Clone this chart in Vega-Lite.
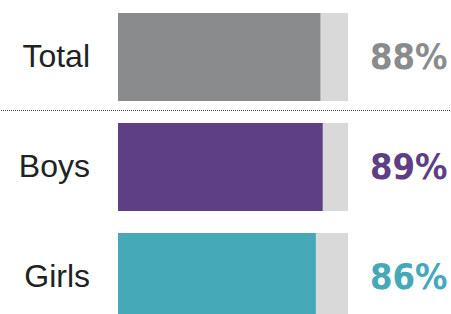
{
  "$schema": "https://vega.github.io/schema/vega-lite/v6.json",
  "width": 451,
  "height": 314,
  "autosize": {"type": "fit", "contains": "padding"},
  "padding": 0,
  "background": "white",
  "config": {"view": {"stroke": null}},
  "data": {"values": [
    {"group": "Total", "value": 88, "label": "88%"},
    {"group": "Boys", "value": 89, "label": "89%"},
    {"group": "Girls", "value": 86, "label": "86%"}
  ]},
  "layer": [
    {
      "mark": {"type": "bar", "color": "#d9d9d9"},
      "encoding": {
        "y": {"field": "group", "type": "nominal", "sort": ["Total", "Boys", "Girls"],
              "scale": {"range": [2, 332], "paddingInner": 0.2, "paddingOuter": 0.1}, "axis": null},
        "x": {"datum": 100, "type": "quantitative", "scale": {"domain": [0, 100], "range": [117, 347]}, "axis": null}
      }
    },
    {
      "mark": {"type": "bar"},
      "encoding": {
        "y": {"field": "group", "type": "nominal", "sort": ["Total", "Boys", "Girls"]},
        "x": {"field": "value", "type": "quantitative"},
        "color": {"field": "group", "type": "nominal",
                  "scale": {"domain": ["Total", "Boys", "Girls"], "range": ["#898b8d", "#5e3f85", "#45a9b8"]},
                  "legend": null}
      }
    },
    {
      "transform": [{"filter": "datum.group == 'Total'"}],
      "mark": {"type": "rule", "stroke": "#444444", "strokeWidth": 1, "strokeDash": [1, 1], "yOffset": 53.5},
      "encoding": {
        "y": {"field": "group", "type": "nominal", "sort": ["Total", "Boys", "Girls"]}
      }
    },
    {
      "mark": {"type": "text", "align": "right", "baseline": "middle", "dx": -28, "font": "Liberation Sans", "fontSize": 32, "color": "#222222"},
      "encoding": {
        "y": {"field": "group", "type": "nominal", "sort": ["Total", "Boys", "Girls"]},
        "x": {"datum": 0, "type": "quantitative"},
        "text": {"field": "group", "type": "nominal"}
      }
    },
    {
      "mark": {"type": "text", "align": "left", "baseline": "middle", "dx": 22, "dy": 1, "font": "DejaVu Sans Condensed", "fontWeight": "bold", "fontSize": 36},
      "encoding": {
        "y": {"field": "group", "type": "nominal", "sort": ["Total", "Boys", "Girls"]},
        "x": {"datum": 100, "type": "quantitative"},
        "text": {"field": "label", "type": "nominal"},
        "color": {"field": "group", "type": "nominal", "legend": null}
      }
    }
  ]
}
